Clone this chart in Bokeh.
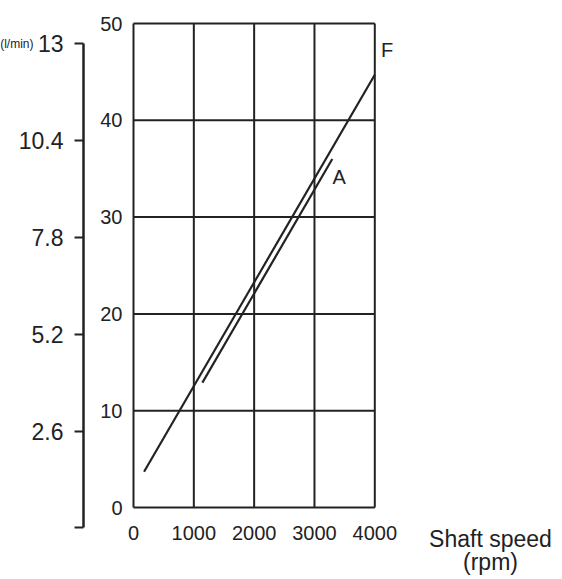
from bokeh.plotting import figure
from bokeh.models import Range1d, FixedTicker, Label, LinearAxis
from bokeh.embed import file_html
from bokeh.resources import INLINE

# ---- data ----
x_ticks = [0, 1000, 2000, 3000, 4000]          # shaft speed (rpm)
y_ticks = [0, 10, 20, 30, 40, 50]               # main left scale
flow_ticks = [0, 2.6, 5.2, 7.8, 10.4, 13]       # secondary scale (l/min)
flow_tick_labels = {0: "", 2.6: "2.6", 5.2: "5.2", 7.8: "7.8", 10.4: "10.4", 13: "13"}

speed_F = [175, 4000]
value_F = [3.7, 44.7]
speed_A = [1142, 3295]
value_A = [12.9, 36.0]

series_names = ["F", "A"]
series_label_x = [4205, 3410]
series_label_y = [47.3, 34.1]

INK = "#222222"
FONT = "Liberation Sans"

# ---- layout: whole canvas is the plot area, axes pinned inside it ----
W, H = 560, 576
PX_X0, PX_X4000 = 133.0, 374.3      # pixel columns of x = 0 and x = 4000
PY_Y50, PY_Y0 = 23.0, 507.0         # pixel rows of y = 50 and y = 0
PY_F13, PY_F0 = 43.3, 527.3         # pixel rows of flow = 13 and flow = 0
PX_FLOW_AXIS = 83.0

kx = (PX_X4000 - PX_X0) / 4000.0
ky = (PY_Y0 - PY_Y50) / 50.0
kf = (PY_F0 - PY_F13) / 13.0
x_start, x_end = -PX_X0 / kx, (W - PX_X0) / kx
y_start, y_end = -(H - PY_Y0) / ky, PY_Y0 / ky
f_start, f_end = -(H - PY_F0) / kf, PY_F0 / kf
flow_axis_x = (PX_FLOW_AXIS - PX_X0) / kx

p = figure(width=W, height=H, output_backend="svg", toolbar_location=None,
           x_range=Range1d(x_start, x_end), y_range=Range1d(y_start, y_end),
           min_border=0, min_border_left=0, min_border_right=0,
           min_border_top=0, min_border_bottom=0)
p.outline_line_color = None
p.background_fill_color = "white"
p.border_fill_color = "white"
p.grid.visible = False

# main axes, pinned to the chart box
xa = p.xaxis[0]
ya = p.yaxis[0]
xa.fixed_location = 0
ya.fixed_location = 0
for ax, ticks in ((xa, x_ticks), (ya, y_ticks)):
    ax.ticker = FixedTicker(ticks=ticks)
    ax.minor_tick_line_color = None
    ax.major_tick_line_color = None
    ax.axis_line_color = None
    ax.major_label_text_font = FONT
    ax.major_label_text_font_size = "20px"
    ax.major_label_text_color = INK
xa.major_label_standoff = 12
ya.major_label_standoff = 5

# chart box and grid, from the tick lists
n_x, n_y = len(x_ticks), len(y_ticks)
p.segment(x0=x_ticks, y0=[y_ticks[0]] * n_x, x1=x_ticks, y1=[y_ticks[-1]] * n_x,
          line_color=INK, line_width=2)
p.segment(x0=[x_ticks[0]] * n_y, y0=y_ticks, x1=[x_ticks[-1]] * n_y, y1=y_ticks,
          line_color=INK, line_width=2)

# secondary (flow) axis
p.extra_y_ranges = {"flow": Range1d(f_start, f_end)}
fa = LinearAxis(y_range_name="flow", fixed_location=flow_axis_x,
                bounds=(flow_ticks[0], flow_ticks[-1]))
fa.ticker = FixedTicker(ticks=flow_ticks)
fa.major_label_overrides = flow_tick_labels
fa.minor_tick_line_color = None
fa.major_tick_out = 9
fa.major_tick_in = 0
fa.major_tick_line_width = 2
fa.major_tick_line_color = INK
fa.axis_line_width = 2.5
fa.axis_line_color = INK
fa.major_label_standoff = 11
fa.major_label_text_font = FONT
fa.major_label_text_font_size = "23px"
fa.major_label_text_color = INK
p.add_layout(fa, "left")

p.add_layout(Label(x=(33 - PX_X0) / kx, y=flow_ticks[-1], y_range_name="flow",
                   text="(l/min)", text_align="right", text_baseline="middle",
                   text_font=FONT, text_font_size="12px", text_color=INK))

# series
p.line(speed_F, value_F, line_color=INK, line_width=2.2)
p.line(speed_A, value_A, line_color=INK, line_width=2.2)

for name, lx, ly in zip(series_names, series_label_x, series_label_y):
    p.add_layout(Label(x=lx, y=ly, text=name, text_align="center",
                       text_baseline="middle", text_font=FONT,
                       text_font_size="20px", text_color=INK))

# x-axis title, to the lower right of the box
title_x = (490 - PX_X0) / kx
p.add_layout(Label(x=title_x, y=-(538 - PY_Y0) / ky, text="Shaft speed",
                   text_align="center", text_baseline="middle", text_font=FONT,
                   text_font_size="23px", text_color=INK))
p.add_layout(Label(x=title_x, y=-(561 - PY_Y0) / ky, text="(rpm)",
                   text_align="center", text_baseline="middle", text_font=FONT,
                   text_font_size="23px", text_color=INK))

open("out.html", "w").write(file_html(p, INLINE))
